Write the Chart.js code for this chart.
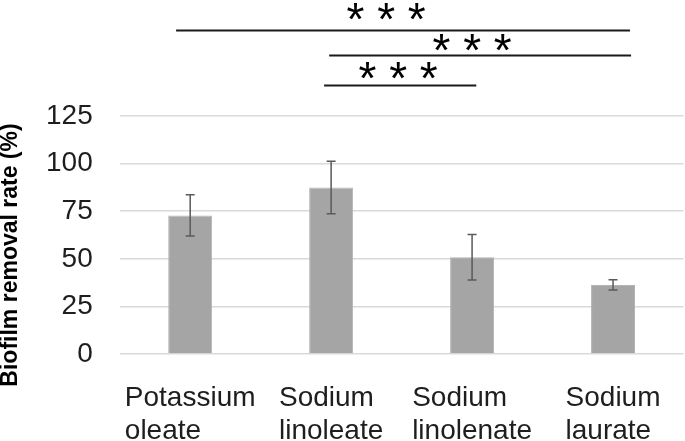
<!DOCTYPE html>
<html>
<head>
<meta charset="utf-8">
<script src="https://cdn.jsdelivr.net/npm/chart.js@4.4.1/dist/chart.umd.min.js"></script>
<style>
  body { margin: 0; background: #fff; }
  #wrap { width: 685px; height: 441px; position: relative; }
</style>
</head>
<body>
<div id="wrap"><canvas id="myChart"></canvas></div>
<script>
'use strict';

// values
var categories = [['Potassium', 'oleate'], ['Sodium', 'linoleate'], ['Sodium', 'linolenate'], ['Sodium', 'laurate']];
var removalRate = [72.8, 87.4, 50.8, 36.3];
var removalSD = [10.8, 13.8, 12.0, 2.7];
var yTicks = [0, 25, 50, 75, 100, 125];

// significance brackets (from / to in category units, heights in axis units)
var sigFrom = [-0.1, 0.986, 0.95];
var sigTo = [3.12, 3.128, 2.03];
var sigLevel = [170, 157, 141.2];
var sigStarAt = [1.39, 2.0, 1.475];
var sigStarLevel = [179.8, 163.5, 148.7];
var sigLabel = ['* * *', '* * *', '* * *'];

var FONT = '"Liberation Sans", Arial, sans-serif';

var extras = {
  id: 'extras',
  afterDatasetsDraw: function(chart) {
    var ctx = chart.ctx;
    var x = chart.scales.x;
    var y = chart.scales.y;
    //error bars
    ctx.save();
    ctx.strokeStyle = '#5a5a5a';
    ctx.lineWidth = 1.5;
    for (var i = 0; i < removalRate.length; i++) {
      var px = x.getPixelForValue(i);
      var top = y.getPixelForValue(removalRate[i] + removalSD[i]);
      var bot = y.getPixelForValue(removalRate[i] - removalSD[i]);
      ctx.beginPath();
      ctx.moveTo(px, top);
      ctx.lineTo(px, bot);
      ctx.moveTo(px - 4.5, top);
      ctx.lineTo(px + 4.5, top);
      ctx.moveTo(px - 4.5, bot);
      ctx.lineTo(px + 4.5, bot);
      ctx.stroke();
    }
    ctx.restore();
  },
  afterDraw: function(chart) {
    var ctx = chart.ctx;
    var x = chart.scales.x;
    var y = chart.scales.y;
    var area = chart.chartArea;

    //category labels, lines left aligned inside a centred block
    ctx.save();
    ctx.font = '28px ' + FONT;
    ctx.fillStyle = '#1e1e1e';
    ctx.textAlign = 'left';
    ctx.textBaseline = 'alphabetic';
    for (var i = 0; i < categories.length; i++) {
      var lines = categories[i];
      var w = 0;
      lines.forEach(function(l) { w = Math.max(w, ctx.measureText(l).width); });
      var left = x.getPixelForValue(i) - w / 2;
      for (var j = 0; j < lines.length; j++) {
        ctx.fillText(lines[j], left, area.bottom + 52 + j * 33);
      }
    }
    ctx.restore();

    //significance brackets
    ctx.save();
    ctx.strokeStyle = '#1a1a1a';
    ctx.lineWidth = 2;
    ctx.fillStyle = '#000';
    ctx.font = '46px ' + FONT;
    ctx.textAlign = 'center';
    ctx.textBaseline = 'alphabetic';
    var m = ctx.measureText('*');
    var shift = (m.actualBoundingBoxAscent - m.actualBoundingBoxDescent) / 2;
    for (var k = 0; k < sigLevel.length; k++) {
      var ly = Math.round(y.getPixelForValue(sigLevel[k])) + 0.5;
      ctx.beginPath();
      ctx.moveTo(x.getPixelForValue(sigFrom[k]), ly);
      ctx.lineTo(x.getPixelForValue(sigTo[k]), ly);
      ctx.stroke();
      ctx.fillText(sigLabel[k], x.getPixelForValue(sigStarAt[k]), y.getPixelForValue(sigStarLevel[k]) + shift);
    }
    ctx.restore();

    //y axis title
    ctx.save();
    ctx.translate(11, (area.top + area.bottom) / 2 + 20);
    ctx.rotate(-Math.PI / 2);
    ctx.font = 'bold 23px ' + FONT;
    ctx.fillStyle = '#000';
    ctx.textAlign = 'center';
    ctx.textBaseline = 'middle';
    ctx.fillText('Biofilm removal rate (%)', 0, 0);
    ctx.restore();
  }
};

var ctx = document.getElementById('myChart').getContext('2d');
var chart = new Chart(ctx, {
  type: 'bar',
  data: {
    labels: categories,
    datasets: [{
      label: 'Biofilm removal rate',
      data: removalRate,
      backgroundColor: '#a5a5a5',
      borderColor: '#b4b4b4',
      borderWidth: 1,
      categoryPercentage: 1,
      barPercentage: 0.312
    }]
  },
  options: {
    responsive: true,
    maintainAspectRatio: false,
    animation: false,
    layout: { padding: { top: 116, left: 19, right: 1.5, bottom: 79 } },
    plugins: {
      legend: { display: false },
      tooltip: { enabled: false }
    },
    scales: {
      x: {
        grid: { display: false },
        border: { display: false },
        ticks: { display: false }
      },
      y: {
        min: 0,
        max: 125,
        afterBuildTicks: function(axis) {
          axis.ticks = yTicks.map(function(v) { return { value: v }; });
        },
        grid: { color: '#d9d9d9', lineWidth: 1.5, drawTicks: false },
        border: { display: false },
        ticks: {
          padding: 27,
          color: '#1e1e1e',
          font: { family: FONT, size: 28 }
        }
      }
    }
  },
  plugins: [extras]
});
</script>
</body>
</html>
